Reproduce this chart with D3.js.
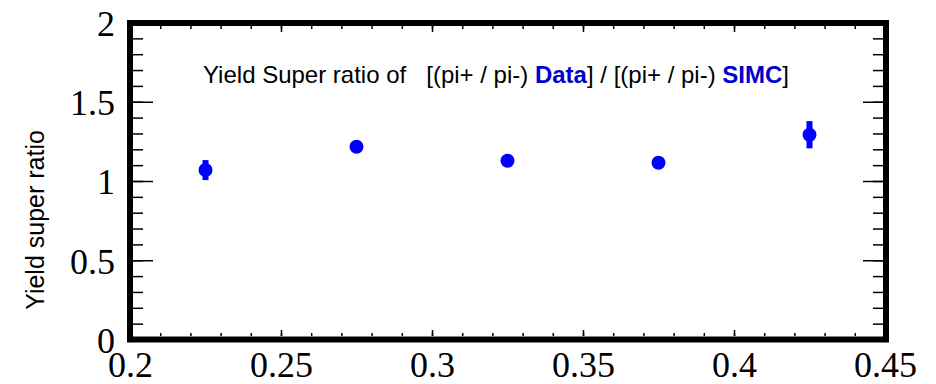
<!DOCTYPE html>
<meta charset="utf-8">
<style>
  body { margin: 0; background: #fff; }
  .tick line { stroke: #000; stroke-width: 1.5px; }
  .frame { fill: none; stroke: #000; stroke-width: 6px; }
  .lab { font-family: "Liberation Serif", "Times New Roman", serif; font-size: 36px; fill: #000; }
  .title { font-family: "Liberation Sans", Arial, sans-serif; font-size: 24px; white-space: pre; }
  .ytitle { font-family: "Liberation Sans", Arial, sans-serif; font-size: 25px; }
  .pt { fill: #0000ff; }
</style>
<script src="https://cdn.jsdelivr.net/npm/d3@7"></script>
<svg id="chart"></svg>
<script>
  // bin centres and measured super ratios
  var xValues = [0.225, 0.275, 0.325, 0.375, 0.425];
  var ratios = [1.069, 1.216, 1.128, 1.115, 1.292];
  var errors = [0.063, 0.02, 0.015, 0.015, 0.086];

  var xMajor = [0.2, 0.25, 0.3, 0.35, 0.4, 0.45];
  var xMajorLabels = ["0.2", "0.25", "0.3", "0.35", "0.4", "0.45"];
  var yMajor = [0, 0.5, 1, 1.5, 2];
  var yMajorLabels = ["0", "0.5", "1", "1.5", "2"];

  var width = 936, height = 384;
  var svg = d3.select('#chart').attr('width', width).attr('height', height);

  var x = d3.scaleLinear().domain([0.2, 0.45]).range([130, 885]);
  var y = d3.scaleLinear().domain([0, 2]).range([339.5, 22.5]);

  var xMinor = d3.range(0.2, 0.4501, 0.01).map(function(d){ return +d.toFixed(2); });
  var yMinor = d3.range(0, 2.001, 0.1).map(function(d){ return +d.toFixed(1); });

  function clean(g) { g.select('.domain').remove(); g.attr('font-size', null).attr('font-family', null); }

  // bottom ticks
  svg.append('g').attr('transform', 'translate(0,336)')
    .call(d3.axisBottom(x).tickValues(xMinor).tickSize(-3).tickFormat('')).call(clean);
  svg.append('g').attr('transform', 'translate(0,336)')
    .call(d3.axisBottom(x).tickValues(xMajor).tickSize(-6)
      .tickFormat(function(d, i){ return xMajorLabels[i]; }))
    .call(clean)
    .selectAll('text').attr('class', 'lab').attr('y', 41).attr('dy', null);
  // top ticks
  svg.append('g').attr('transform', 'translate(0,26)')
    .call(d3.axisTop(x).tickValues(xMinor).tickSize(-3).tickFormat('')).call(clean);
  svg.append('g').attr('transform', 'translate(0,26)')
    .call(d3.axisTop(x).tickValues(xMajor).tickSize(-6).tickFormat('')).call(clean);

  // left ticks
  svg.append('g').attr('transform', 'translate(133,0)')
    .call(d3.axisLeft(y).tickValues(yMinor).tickSize(-10).tickFormat('')).call(clean);
  svg.append('g').attr('transform', 'translate(133,0)')
    .call(d3.axisLeft(y).tickValues(yMajor).tickSize(-20).tickPadding(18)
      .tickFormat(function(d, i){ return yMajorLabels[i]; }))
    .call(clean)
    .selectAll('text').attr('class', 'lab').attr('dy', '0.36em');
  // right ticks
  svg.append('g').attr('transform', 'translate(883,0)')
    .call(d3.axisRight(y).tickValues(yMinor).tickSize(-10).tickFormat('')).call(clean);
  svg.append('g').attr('transform', 'translate(883,0)')
    .call(d3.axisRight(y).tickValues(yMajor).tickSize(-20).tickFormat('')).call(clean);

  // frame
  svg.append('rect').attr('class', 'frame')
    .attr('x', 130).attr('y', 23).attr('width', 756).attr('height', 316.5);

  // error bars and markers
  var pts = svg.append('g');
  pts.selectAll('rect.err').data(xValues).enter().append('rect')
    .attr('class', 'pt err')
    .attr('x', function(d){ return x(d) - 3; })
    .attr('y', function(d, i){ return y(ratios[i] + errors[i]); })
    .attr('width', 6)
    .attr('height', function(d, i){ return y(ratios[i] - errors[i]) - y(ratios[i] + errors[i]); });
  pts.selectAll('circle').data(xValues).enter().append('circle')
    .attr('class', 'pt')
    .attr('cx', function(d){ return x(d); })
    .attr('cy', function(d, i){ return y(ratios[i]); })
    .attr('r', 7);

  // title
  var t = svg.append('text').attr('class', 'title').attr('x', 203).attr('y', 83)
    .attr('xml:space', 'preserve');
  t.append('tspan').text('Yield Super ratio of   [(pi+ / pi-) ');
  t.append('tspan').attr('font-weight', 'bold').attr('fill', '#0000cc').text('Data');
  t.append('tspan').text('] / [(pi+ / pi-) ');
  t.append('tspan').attr('font-weight', 'bold').attr('fill', '#0000cc').text('SIMC');
  t.append('tspan').text(']');

  // y axis title
  svg.append('text').attr('class', 'ytitle')
    .attr('transform', 'translate(44,220) rotate(-90)')
    .attr('text-anchor', 'middle')
    .text('Yield super ratio');
</script>
